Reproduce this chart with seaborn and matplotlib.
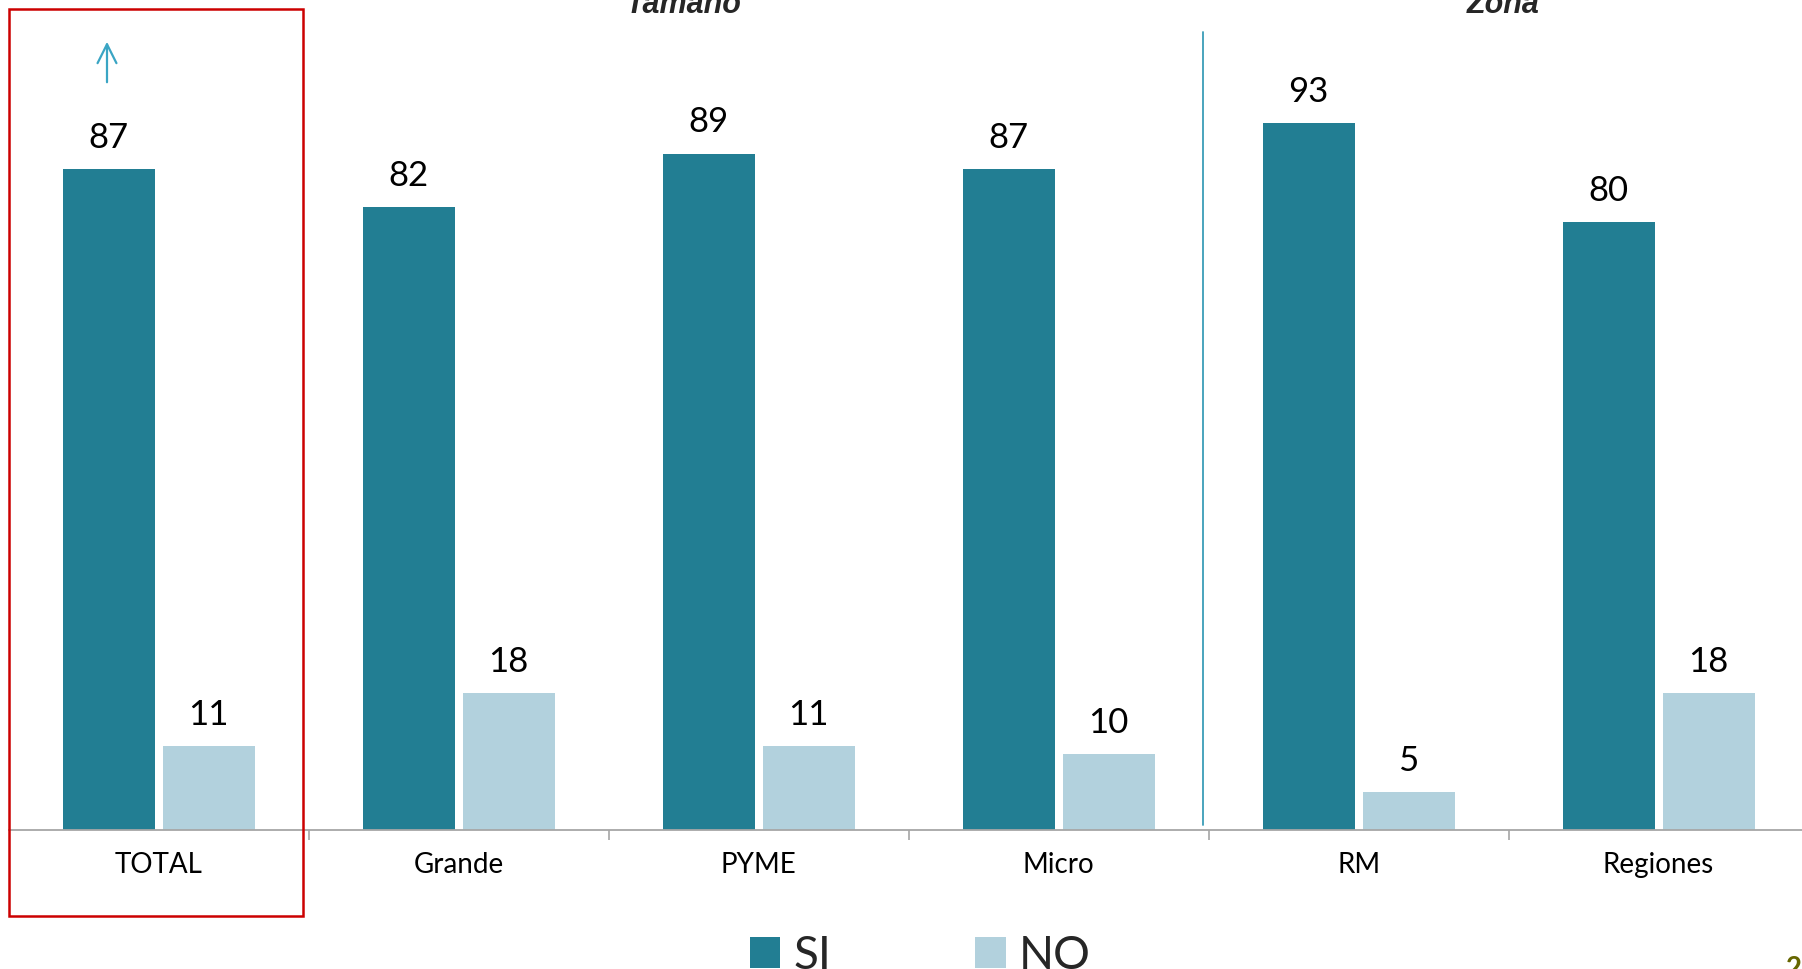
import matplotlib
matplotlib.use("Agg")
import matplotlib.pyplot as plt
import seaborn as sns
import pandas as pd
import numpy as np
from matplotlib.patches import Rectangle, Patch

categories = ["TOTAL", "Grande", "PYME", "Micro", "RM", "Regiones"]
si_values = [87, 82, 89, 87, 93, 80]
no_values = [11, 18, 11, 10, 5, 18]
series_names = ["SI", "NO"]
group_titles = ["Tamaño", "Zona"]

SI_COLOR = "#227E93"
NO_COLOR = "#B2D1DD"

df = pd.DataFrame({
    "cat": categories * 2,
    "val": si_values + no_values,
    "resp": [series_names[0]] * len(categories) + [series_names[1]] * len(categories),
})

sns.set_style("white")
plt.rcParams["font.family"] = ["Lato", "DejaVu Sans"]

W, H = 1802, 969
PX_PER_UNIT = 7.6
fig = plt.figure(figsize=(W / 100, H / 100), dpi=100)
ax = fig.add_axes([8.6 / W, (H - 830) / H, 1800 / W, 830 / H])

sns.barplot(data=df, x="cat", y="val", hue="resp", order=categories,
            hue_order=series_names, palette=[SI_COLOR, NO_COLOR],
            width=0.667, gap=0.08, linewidth=0, saturation=1, ax=ax, legend=False)

ax.set_xlim(-0.5, 5.5)
ax.set_ylim(0, 830 / PX_PER_UNIT)

for c in ax.containers:
    ax.bar_label(c, fmt="%d", padding=11, fontsize=25, color="black")

for s in ["top", "left", "right"]:
    ax.spines[s].set_visible(False)
ax.spines["bottom"].set_color("#A6A6A6")
ax.spines["bottom"].set_linewidth(1.3)
ax.set_xlabel("")
ax.set_ylabel("")
ax.set_yticks([])
ax.tick_params(axis="x", which="major", bottom=True, length=0, pad=15.5,
               labelsize=20, labelcolor="black")
ax.set_xticks(np.arange(0.5, 5.0, 1.0), minor=True)
ax.tick_params(axis="x", which="minor", bottom=True, length=7, width=1.2,
               color="#A6A6A6", direction="out")

# separator line between groups
ax.plot([3.48, 3.48], [0.6, (830 - 32) / PX_PER_UNIT], color="#3A9DB8",
        linewidth=1.3, clip_on=False)

# arrow above TOTAL
ax.annotate("", xy=(-0.172, (830 - 39) / PX_PER_UNIT),
            xytext=(-0.172, (830 - 85) / PX_PER_UNIT),
            arrowprops=dict(arrowstyle="->", color="#3AA5C4", lw=1.6,
                            mutation_scale=34))

# group titles (partially cut at top)
fig.text(684 / W, 1 - 13 / H, group_titles[0], ha="center", va="baseline",
         fontsize=22, fontweight="bold", fontstyle="italic", family="Liberation Sans")
fig.text(1503 / W, 1 - 13 / H, group_titles[1], ha="center", va="baseline",
         fontsize=22, fontweight="bold", fontstyle="italic", family="Liberation Sans")

# red highlight box
fig.patches.append(Rectangle((9 / W, 1 - 916 / H), (303 - 9) / W, (916 - 9) / H,
                             transform=fig.transFigure, fill=False,
                             edgecolor="#CC0000", linewidth=1.8))

# legend
handles = [Patch(facecolor=SI_COLOR, edgecolor="none"),
           Patch(facecolor=NO_COLOR, edgecolor="none")]
fig.legend(handles, series_names, loc="lower left",
           bbox_to_anchor=(750 / W, -8 / H), ncol=2, frameon=False,
           fontsize=33, handlelength=0.66, handleheight=0.66,
           handletextpad=0.28, columnspacing=3.15, borderpad=0, borderaxespad=0)

# page number (mostly cut off at the bottom edge, as in the original)
fig.text(1786 / W, 1 - 956 / H, "2", ha="left", va="top", fontsize=20,
         fontweight="bold", color="#666600")

fig.savefig("out.png", dpi=100)
